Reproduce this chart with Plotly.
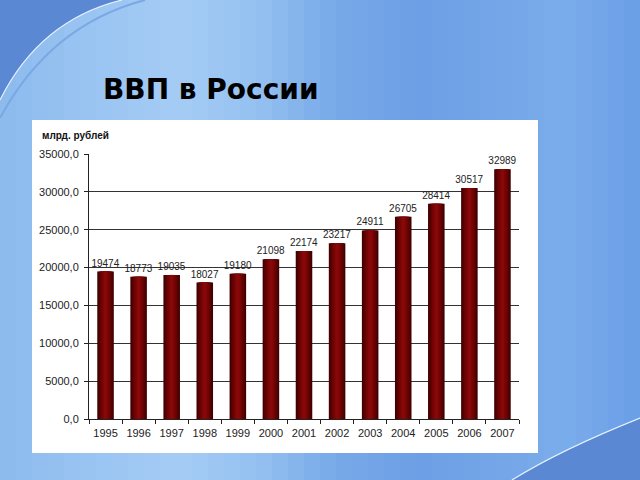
import plotly.graph_objects as go

years = ["1995", "1996", "1997", "1998", "1999", "2000", "2001",
         "2002", "2003", "2004", "2005", "2006", "2007"]
gdp = [19474, 18773, 19035, 18027, 19180, 21098, 22174,
       23217, 24911, 26705, 28414, 30517, 32989]
tick_vals = [0, 5000, 10000, 15000, 20000, 25000, 30000, 35000]

# plot area in pixels
PL, PR, PT, PB = 89, 519, 154, 419
W, H = 640, 480
pw, ph = PR - PL, PB - PT


def px(x):
    return (x - PL) / pw


def py(y):
    return (PB - y) / ph


fig = go.Figure()

# horizontal gradient of the bars via overlaid narrower bars
layers = [(0.50, "#420101"), (0.42, "#520202"), (0.34, "#620303"),
          (0.26, "#700404"), (0.18, "#7c0505"), (0.10, "#860808")]
for i, (w, c) in enumerate(layers):
    first = i == 0
    fig.add_trace(go.Bar(
        x=years, y=gdp, width=w, marker=dict(color=c, line=dict(width=0)),
        text=[str(v) for v in gdp] if first else None,
        textposition="outside" if first else "none",
        constraintext="none",
        textfont=dict(family="Liberation Sans, Arial", size=10, color="#222"),
        cliponaxis=False, hoverinfo="skip", showlegend=False,
    ))

shapes = []


def hexc(c):
    return tuple(int(c[i:i + 2], 16) for i in (1, 3, 5))


# smooth background gradient (x position in px, colour)
stops = [(0, "#8cbaee"), (80, "#98c3f1"), (180, "#a4ccf4"), (260, "#94c0f0"),
         (340, "#76a8e8"), (420, "#6c9fe6"), (500, "#74a6e8"), (560, "#7badeb"),
         (640, "#6a9ee6")]
nb = 40
for i in range(nb):
    x = (i + 0.5) * W / nb
    for (x0, c0), (x1, c1) in zip(stops, stops[1:]):
        if x0 <= x <= x1:
            t = (x - x0) / (x1 - x0)
            a, b = hexc(c0), hexc(c1)
            col = "#%02x%02x%02x" % tuple(round(a[k] + (b[k] - a[k]) * t) for k in range(3))
            break
    shapes.append(dict(type="rect", xref="paper", yref="paper", layer="below",
                       x0=px(i * W / nb), x1=px((i + 1) * W / nb + 0.6),
                       y0=py(H), y1=py(0), fillcolor=col, line=dict(width=0)))


def path(points_px, close=True):
    s = ""
    for cmd, pts in points_px:
        s += cmd + " " + " ".join(f"{px(a):.4f},{py(b):.4f}" for a, b in pts) + " "
    return s + ("Z" if close else "")


tl = path([("M", [(0, 0)]), ("L", [(0, 100)]), ("Q", [(40, 20), (122, 0)])])
shapes.append(dict(type="path", path=tl, xref="paper", yref="paper", layer="below",
                   fillcolor="#5a88d2", line=dict(width=0)))
tl_line2 = path([("M", [(0, 118)]), ("Q", [(50, 25), (145, 0)])], close=False)
shapes.append(dict(type="path", path=tl_line2, xref="paper", yref="paper", layer="below",
                   line=dict(color="#7aa8e4", width=2)))
tl_line = path([("M", [(0, 100)]), ("Q", [(40, 20), (122, 0)])], close=False)
shapes.append(dict(type="path", path=tl_line, xref="paper", yref="paper", layer="below",
                   line=dict(color="#e8f2ff", width=1.2)))

br = path([("M", [(640, 480)]), ("L", [(640, 418)]), ("Q", [(560, 450), (512, 480)])])
shapes.append(dict(type="path", path=br, xref="paper", yref="paper", layer="below",
                   fillcolor="#5a88d2", line=dict(width=0)))
br_line = path([("M", [(640, 418)]), ("Q", [(560, 450), (512, 480)])], close=False)
shapes.append(dict(type="path", path=br_line, xref="paper", yref="paper", layer="below",
                   line=dict(color="#e8f2ff", width=1.2)))

# white panel
shapes.append(dict(type="rect", xref="paper", yref="paper", layer="below",
                   x0=px(32), x1=px(538), y0=py(453), y1=py(120),
                   fillcolor="white", line=dict(width=0)))

annotations = [
    dict(text="<b>ВВП в России</b>", xref="paper", yref="paper",
         x=px(101), y=py(71), xanchor="left", yanchor="top", showarrow=False,
         font=dict(family="DejaVu Sans", size=28, color="#000")),
    dict(text="<b>млрд. рублей</b>", xref="paper", yref="paper",
         x=px(40), y=py(128), xanchor="left", yanchor="top", showarrow=False,
         font=dict(family="Liberation Sans, Arial", size=10, color="#111")),
]

fig.update_layout(
    width=W, height=H,
    margin=dict(l=PL, r=W - PR, t=PT, b=H - PB, pad=0),
    paper_bgcolor="#7eb0ec", plot_bgcolor="white",
    barmode="overlay", bargap=0.5,
    shapes=shapes, annotations=annotations,
    separators=", ",
    showlegend=False,
)
fig.update_xaxes(
    type="category", showgrid=False, showline=True, linecolor="#222", linewidth=1,
    ticks="outside", tickson="boundaries", ticklen=4, tickcolor="#222",
    tickangle=0, ticklabelstandoff=4,
    tickfont=dict(family="Liberation Sans, Arial", size=11, color="#222"),
)
fig.update_yaxes(
    range=[0, 35000], tickvals=tick_vals, tickformat=".1f",
    showgrid=True, gridcolor="#333", gridwidth=1,
    showline=True, linecolor="#222", linewidth=1,
    ticks="outside", ticklen=4, tickcolor="#222", ticklabelstandoff=3,
    tickfont=dict(family="Liberation Sans, Arial", size=11, color="#222"),
    zeroline=False,
)

fig.write_html("out.html", config={"displayModeBar": False},
               post_script="document.body.style.margin='0';")
